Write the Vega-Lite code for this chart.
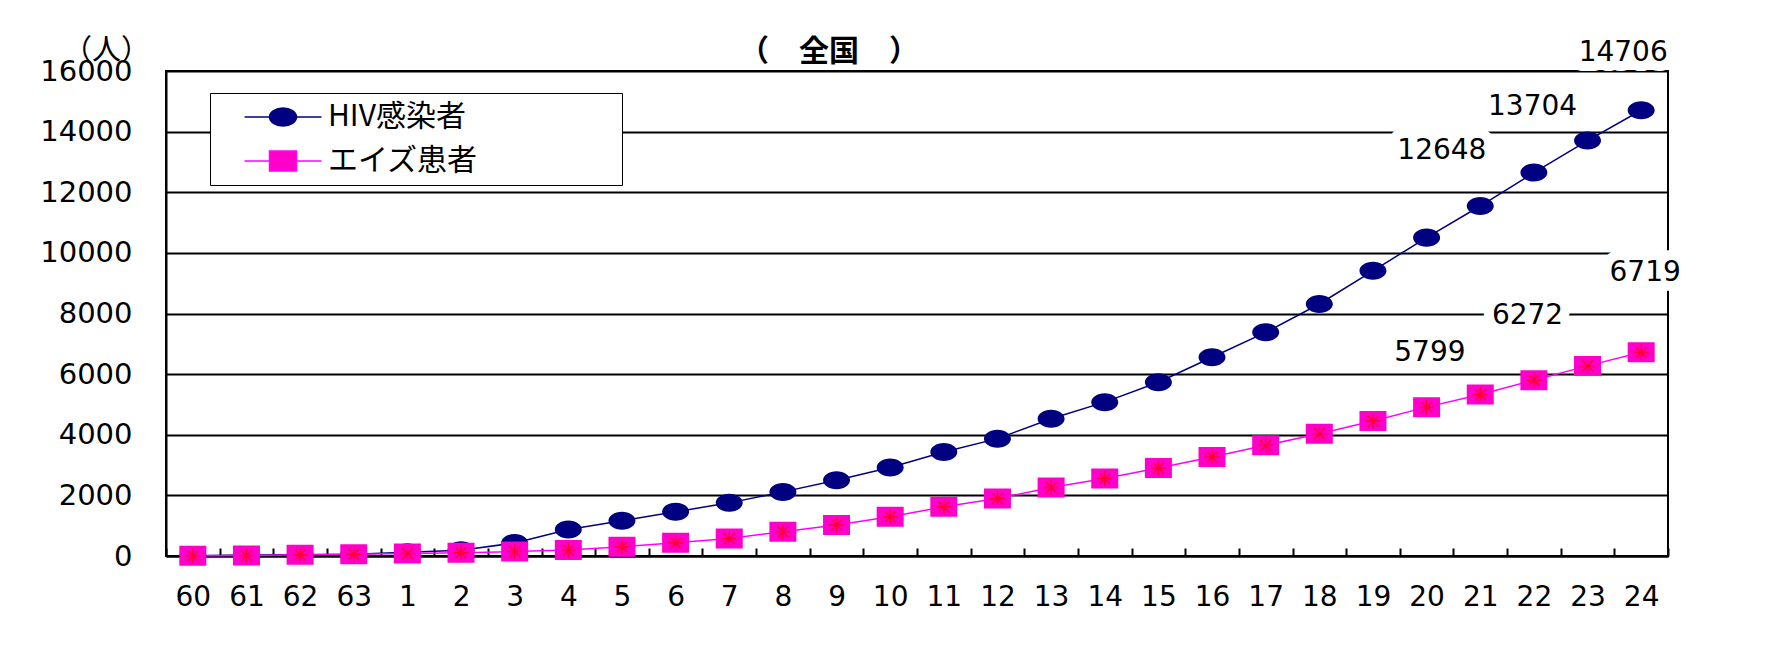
{
  "$schema": "https://vega.github.io/schema/vega-lite/v6.json",
  "autosize": {"type": "none"},
  "padding": {"left": 166, "top": 71, "right": 118, "bottom": 113},
  "width": 1502,
  "height": 485,
  "background": "white",
  "title": {"text": "（　全国　）", "font": "Noto Sans CJK JP", "fontSize": 30, "fontWeight": "bold", "color": "black", "anchor": "middle", "frame": "group", "dx": -88, "dy": 64, "baseline": "alphabetic", "offset": 9},
  "config": {"view": {"stroke": "black", "strokeWidth": 2}},
  "data": {"values": [
    {"year": "60", "HIV感染者": 5, "エイズ患者": 6},
    {"year": "61", "HIV感染者": 31, "エイズ患者": 14},
    {"year": "62", "HIV感染者": 45, "エイズ患者": 43},
    {"year": "63", "HIV感染者": 59, "エイズ患者": 57},
    {"year": "1", "HIV感染者": 125, "エイズ患者": 79},
    {"year": "2", "HIV感染者": 191, "エイズ患者": 108},
    {"year": "3", "HIV感染者": 429, "エイズ患者": 146},
    {"year": "4", "HIV感染者": 871, "エイズ患者": 197},
    {"year": "5", "HIV感染者": 1161, "エイズ患者": 306},
    {"year": "6", "HIV感染者": 1457, "エイズ患者": 438},
    {"year": "7", "HIV感染者": 1753, "エイズ患者": 581},
    {"year": "8", "HIV感染者": 2115, "エイズ患者": 800},
    {"year": "9", "HIV感染者": 2500, "エイズ患者": 1020},
    {"year": "10", "HIV感染者": 2918, "エイズ患者": 1293},
    {"year": "11", "HIV感染者": 3431, "エイズ患者": 1622},
    {"year": "12", "HIV感染者": 3872, "エイズ患者": 1898},
    {"year": "13", "HIV感染者": 4530, "エイズ患者": 2260},
    {"year": "14", "HIV感染者": 5076, "エイズ患者": 2556},
    {"year": "15", "HIV感染者": 5734, "エイズ患者": 2900},
    {"year": "16", "HIV感染者": 6556, "エイズ患者": 3267},
    {"year": "17", "HIV感染者": 7378, "エイズ患者": 3651},
    {"year": "18", "HIV感染者": 8313, "エイズ患者": 4036},
    {"year": "19", "HIV感染者": 9408, "エイズ患者": 4451},
    {"year": "20", "HIV感染者": 10503, "エイズ患者": 4911},
    {"year": "21", "HIV感染者": 11546, "エイズ患者": 5329},
    {"year": "22", "HIV感染者": 12648, "エイズ患者": 5799},
    {"year": "23", "HIV感染者": 13704, "エイズ患者": 6272},
    {"year": "24", "HIV感染者": 14706, "エイズ患者": 6719}
  ]},
  "transform": [{"fold": ["HIV感染者", "エイズ患者"], "as": ["series", "value"]}],
  "encoding": {
    "x": {"field": "year", "type": "ordinal", "sort": null,
      "scale": {"paddingInner": 0, "paddingOuter": 0},
      "axis": {"title": null, "labelAngle": 0, "labelFont": "DejaVu Sans", "labelFontSize": 28, "labelColor": "black", "labelPadding": 35, "ticks": true, "tickSize": -8, "tickColor": "black", "tickWidth": 2, "tickBand": "extent", "domainColor": "black", "domainWidth": 2, "grid": false}},
    "y": {"field": "value", "type": "quantitative",
      "scale": {"domain": [0, 16000], "nice": false},
      "axis": {"values": [0, 2000, 4000, 6000, 8000, 10000, 12000, 14000, 16000], "format": "d", "grid": true, "gridColor": "black", "gridWidth": 1.8, "domainColor": "black", "domainWidth": 2, "ticks": false, "labelFont": "DejaVu Sans", "labelFontSize": 29, "labelColor": "black", "labelPadding": 34, "title": "（人）", "titleAngle": 0, "titleX": -60, "titleY": -21, "titleAlign": "center", "titleBaseline": "middle", "titleFont": "Noto Sans CJK JP", "titleFontSize": 29, "titleFontWeight": "normal", "titleColor": "black"}}
  },
  "layer": [
    {
      "mark": {"type": "line", "strokeWidth": 1.5},
      "encoding": {
        "color": {"field": "series", "type": "nominal",
          "scale": {"domain": ["HIV感染者", "エイズ患者"], "range": ["#000080", "#FF00FF"]},
          "legend": {"orient": "none", "legendX": 44, "legendY": 22, "title": null, "strokeColor": "black", "fillColor": "white", "padding": 9, "symbolSize": 729, "symbolOffset": 49, "labelOffset": 30, "labelFont": "Noto Sans CJK JP", "labelFontSize": 30, "labelColor": "black", "labelLimit": 600, "rowPadding": 14, "symbolStrokeWidth": 1.5, "labelExpr": "datum.label + '\u3000\u3000\u3000\u3000\u2002\u200b'",
            "encode": {"symbols": {"update": {"fill": {"scale": "fill", "field": "value"}, "stroke": {"scale": "color", "field": "value"}, "strokeWidth": {"value": 1.5}}}}}
        }
      }
    },
    {
      "mark": {"type": "point", "filled": true, "size": 729, "strokeWidth": 0, "opacity": 1},
      "encoding": {
        "fill": {"field": "series", "type": "nominal",
          "scale": {"domain": ["HIV感染者", "エイズ患者"], "range": ["#000080", "#FF00CC"]}, "legend": null},
        "shape": {"field": "series", "type": "nominal",
          "scale": {"domain": ["HIV感染者", "エイズ患者"], "range": ["M-2.85,0H-1M1,0H2.85M-1,0A1,0.667 0 1,1 1,0A1,0.667 0 1,1 -1,0Z", "M-2.85,0H-1M1,0H2.85M-1,-0.74H1V0.74H-1Z"]},
          "legend": {"orient": "none", "legendX": 44, "legendY": 22, "title": null, "strokeColor": "black", "fillColor": "white", "padding": 9, "symbolSize": 729, "symbolOffset": 49, "labelOffset": 30, "labelFont": "Noto Sans CJK JP", "labelFontSize": 30, "labelColor": "black", "labelLimit": 600, "rowPadding": 14, "symbolStrokeWidth": 1.5, "labelExpr": "datum.label + '\u3000\u3000\u3000\u3000\u2002\u200b'",
            "encode": {"symbols": {"update": {"fill": {"scale": "fill", "field": "value"}, "stroke": {"scale": "color", "field": "value"}, "strokeWidth": {"value": 1.5}}}}}
        }
      }
    },
    {
      "transform": [{"filter": "datum.series == 'エイズ患者'"}],
      "mark": {"type": "point", "filled": false, "size": 729, "shape": "M-0.55,0H0.55M0,-0.55V0.55M-0.4,-0.4L0.4,0.4M-0.4,0.4L0.4,-0.4", "stroke": "#FF0033", "strokeWidth": 1.5, "opacity": 1}
    },
    {"transform": [{"filter": "datum.year == '24' && datum.series == 'HIV感染者'"}],
     "mark": {"type": "text", "dx": -18, "dy": -57, "font": "DejaVu Sans", "fontSize": 28, "fill": "white", "stroke": "white", "strokeWidth": 20, "strokeJoin": "round"},
     "encoding": {"text": {"field": "value", "type": "quantitative", "format": "d"}}},
    {"transform": [{"filter": "datum.year == '24' && datum.series == 'HIV感染者'"}],
     "mark": {"type": "text", "dx": -18, "dy": -57, "font": "DejaVu Sans", "fontSize": 28, "fill": "black"},
     "encoding": {"text": {"field": "value", "type": "quantitative", "format": "d"}}},
    {"transform": [{"filter": "datum.year == '23' && datum.series == 'HIV感染者'"}],
     "mark": {"type": "text", "dx": -55, "dy": -34, "font": "DejaVu Sans", "fontSize": 28, "fill": "white", "stroke": "white", "strokeWidth": 20, "strokeJoin": "round"},
     "encoding": {"text": {"field": "value", "type": "quantitative", "format": "d"}}},
    {"transform": [{"filter": "datum.year == '23' && datum.series == 'HIV感染者'"}],
     "mark": {"type": "text", "dx": -55, "dy": -34, "font": "DejaVu Sans", "fontSize": 28, "fill": "black"},
     "encoding": {"text": {"field": "value", "type": "quantitative", "format": "d"}}},
    {"transform": [{"filter": "datum.year == '22' && datum.series == 'HIV感染者'"}],
     "mark": {"type": "text", "dx": -92, "dy": -22, "font": "DejaVu Sans", "fontSize": 28, "fill": "white", "stroke": "white", "strokeWidth": 20, "strokeJoin": "round"},
     "encoding": {"text": {"field": "value", "type": "quantitative", "format": "d"}}},
    {"transform": [{"filter": "datum.year == '22' && datum.series == 'HIV感染者'"}],
     "mark": {"type": "text", "dx": -92, "dy": -22, "font": "DejaVu Sans", "fontSize": 28, "fill": "black"},
     "encoding": {"text": {"field": "value", "type": "quantitative", "format": "d"}}},
    {"transform": [{"filter": "datum.year == '24' && datum.series == 'エイズ患者'"}],
     "mark": {"type": "text", "dx": 4, "dy": -79, "font": "DejaVu Sans", "fontSize": 28, "fill": "white", "stroke": "white", "strokeWidth": 20, "strokeJoin": "round"},
     "encoding": {"text": {"field": "value", "type": "quantitative", "format": "d"}}},
    {"transform": [{"filter": "datum.year == '24' && datum.series == 'エイズ患者'"}],
     "mark": {"type": "text", "dx": 4, "dy": -79, "font": "DejaVu Sans", "fontSize": 28, "fill": "black"},
     "encoding": {"text": {"field": "value", "type": "quantitative", "format": "d"}}},
    {"transform": [{"filter": "datum.year == '23' && datum.series == 'エイズ患者'"}],
     "mark": {"type": "text", "dx": -60, "dy": -50, "font": "DejaVu Sans", "fontSize": 28, "fill": "white", "stroke": "white", "strokeWidth": 20, "strokeJoin": "round"},
     "encoding": {"text": {"field": "value", "type": "quantitative", "format": "d"}}},
    {"transform": [{"filter": "datum.year == '23' && datum.series == 'エイズ患者'"}],
     "mark": {"type": "text", "dx": -60, "dy": -50, "font": "DejaVu Sans", "fontSize": 28, "fill": "black"},
     "encoding": {"text": {"field": "value", "type": "quantitative", "format": "d"}}},
    {"transform": [{"filter": "datum.year == '22' && datum.series == 'エイズ患者'"}],
     "mark": {"type": "text", "dx": -104, "dy": -27, "font": "DejaVu Sans", "fontSize": 28, "fill": "white", "stroke": "white", "strokeWidth": 20, "strokeJoin": "round"},
     "encoding": {"text": {"field": "value", "type": "quantitative", "format": "d"}}},
    {"transform": [{"filter": "datum.year == '22' && datum.series == 'エイズ患者'"}],
     "mark": {"type": "text", "dx": -104, "dy": -27, "font": "DejaVu Sans", "fontSize": 28, "fill": "black"},
     "encoding": {"text": {"field": "value", "type": "quantitative", "format": "d"}}}
  ]
}
